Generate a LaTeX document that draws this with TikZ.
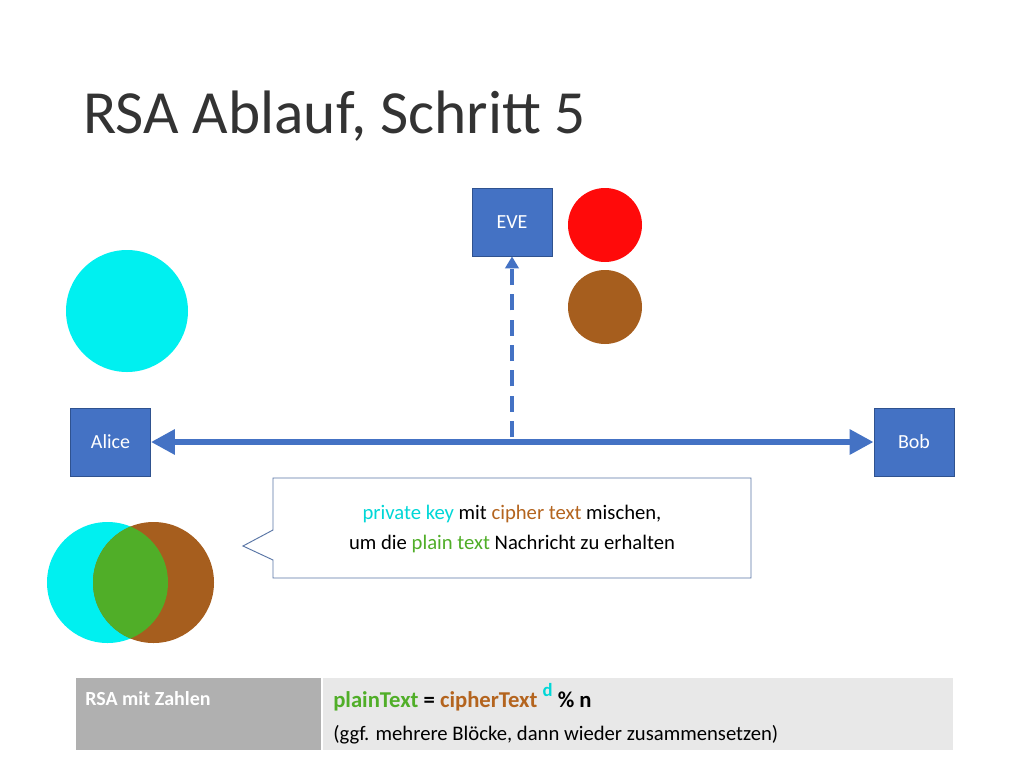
\documentclass[tikz,border=0pt]{standalone}
\usepackage{fontspec}
\setmainfont{Carlito}
\usetikzlibrary{arrows.meta}
\definecolor{box}{RGB}{68,114,196}
\definecolor{boxd}{RGB}{47,82,143}
\definecolor{cy}{RGB}{0,240,240}
\definecolor{cyt}{RGB}{0,215,215}
\definecolor{br}{RGB}{166,94,30}
\definecolor{bt}{RGB}{180,100,30}
\definecolor{gr}{RGB}{80,174,40}
\definecolor{rd}{RGB}{255,10,10}
\definecolor{g1}{RGB}{176,176,176}
\definecolor{g2}{RGB}{232,232,232}
\tikzset{bluebox/.style={draw=boxd,fill=box,text=white,minimum width=60pt,minimum height=51pt,inner sep=0pt,font=\fontsize{15}{18}\selectfont,line width=0.6pt}}
\begin{document}
\begin{tikzpicture}[x=0.75pt,y=-0.75pt]
\useasboundingbox (0,0) rectangle (1024,768);
\fill[white] (0,0) rectangle (1024,768);
\node[anchor=base west,inner sep=0pt,font=\fontsize{46}{50}\selectfont,text=black!80] (title) at (83,133) {RSA Ablauf, Schritt 5};
\node[bluebox] (eve) at (512,222) {EVE};
\node[bluebox] (alice) at (110.5,442) {Alice};
\node[bluebox] (bob) at (914,442) {Bob};
\fill[rd] (605,225) circle (37);
\fill[br] (605,307) circle (37);
\fill[cy] (127,311) circle (61);
\coordinate (mid) at (512,437);
\draw[box,line width=4.5pt,{Triangle[length=18pt,width=18pt]}-{Triangle[length=18pt,width=18pt]}] (alice.east) -- (bob.west);
\draw[box,line width=3pt,dash pattern=on 12pt off 7pt,-{Triangle[length=9pt,width=10pt]}] (mid) -- (eve.south);
% callout
\draw[boxd!80,fill=white,line width=0.7pt] (273,478) -- (751,478) -- (751,578) -- (273,578) -- (273,560) -- (243,546) -- (273,530) -- cycle;
\node[align=center,font=\fontsize{15.5}{23}\selectfont] (txt) at (512,529) {\textcolor{cyt}{private key} mit \textcolor{bt}{cipher text} mischen,\\ um die \textcolor{gr}{plain text} Nachricht zu erhalten};
% venn
\fill[cy] (107.5,582.5) circle (60.5);
\fill[br] (153.5,582.5) circle (60.5);
\begin{scope}
\clip (107.5,582.5) circle (60.5);
\fill[gr] (153.5,582.5) circle (60.5);
\end{scope}
% table
\fill[g1] (76,678) rectangle (321,750);
\fill[g2] (323,678) rectangle (953,750);
\node[anchor=base west,inner sep=0pt,text=white,font=\bfseries\fontsize{15}{18}\selectfont] (t1) at (85,705) {RSA mit Zahlen};
\node[anchor=base west,inner sep=0pt,font=\bfseries\fontsize{17}{20}\selectfont] (t2) at (333,707) {\textcolor{gr}{plainText} = \textcolor{bt}{cipherText} \raisebox{8pt}{\textcolor{cyt}{\fontsize{14}{16}\selectfont d}} \% n};
\node[anchor=base west,inner sep=0pt,font=\fontsize{15.5}{18}\selectfont] (t3) at (333,740) {(ggf. mehrere Blöcke, dann wieder zusammensetzen)};
\end{tikzpicture}
\end{document}
